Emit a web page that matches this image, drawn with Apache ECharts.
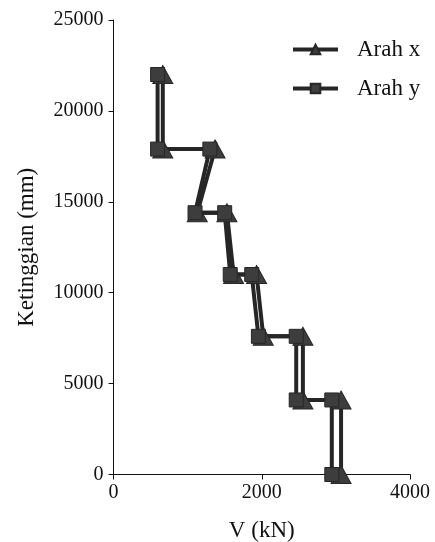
<!DOCTYPE html>
<html>
<head>
<meta charset="utf-8">
<script src="https://cdn.jsdelivr.net/npm/echarts@6/dist/echarts.min.js"></script>
<style>html,body{margin:0;padding:0;background:#fff}#c{width:435px;height:542px}</style>
</head>
<body>
<div id="c"></div>
<script>
const heights = [0, 4100, 4100, 7600, 7600, 11000, 11000, 14400, 14400, 17900, 17900, 22000];
const arahX = [3070, 3070, 2555, 2555, 2020, 1930, 1620, 1530, 1130, 1370, 665, 665];
const arahY = [2945, 2945, 2465, 2465, 1955, 1865, 1575, 1500, 1100, 1300, 595, 595];
const seriesNames = ['Arah x', 'Arah y'];
const xTicks = [0, 2000, 4000];
const yTicks = [0, 5000, 10000, 15000, 20000, 25000];

const font = 'Liberation Serif';
const dark = '#262626';
const fill = '#3d3d3d';

function pairs(xs) { return xs.map((v, i) => [v, heights[i]]); }

const chart = echarts.init(document.getElementById('c'), null, {renderer: 'canvas'});
chart.setOption({
  animation: false,
  backgroundColor: '#fff',
  grid: {left: 113.5, right: 25, top: 20, bottom: 67.5, containLabel: false, outerBoundsMode: 'none'},
  legend: {
    orient: 'vertical', left: 286, top: 33, itemGap: 16,
    itemWidth: 45, itemHeight: 12,
    lineStyle: {width: 4, color: dark},
    textStyle: {fontFamily: font, fontSize: 23, color: '#111', padding: [0, 0, 0, 14]},
    data: seriesNames
  },
  xAxis: {
    type: 'value', min: xTicks[0], max: xTicks[xTicks.length - 1], interval: 2000,
    name: 'V (kN)', nameLocation: 'middle', nameGap: 45,
    nameTextStyle: {fontFamily: font, fontSize: 23, color: '#111'},
    axisLine: {show: true, lineStyle: {color: '#111', width: 1}},
    axisTick: {show: true, inside: false, length: 5, lineStyle: {color: '#111'}},
    axisLabel: {fontFamily: font, fontSize: 20, color: '#111', margin: 8, formatter: v => String(v)},
    splitLine: {show: false}
  },
  yAxis: {
    type: 'value', min: yTicks[0], max: yTicks[yTicks.length - 1], interval: 5000,
    name: 'Ketinggian (mm)', nameLocation: 'middle', nameGap: 75, nameRotate: 90,
    nameTextStyle: {fontFamily: font, fontSize: 23, color: '#111'},
    axisLine: {show: true, lineStyle: {color: '#111', width: 1}},
    axisTick: {show: true, inside: false, length: 5, lineStyle: {color: '#111'}},
    axisLabel: {fontFamily: font, fontSize: 20, color: '#111', margin: 10, formatter: v => String(v)},
    splitLine: {show: false}
  },
  series: [
    {
      name: seriesNames[0], type: 'line', data: pairs(arahX),
      symbol: 'triangle', symbolSize: [20, 18],
      lineStyle: {color: dark, width: 4},
      itemStyle: {color: fill, borderColor: dark, borderWidth: 1},
      showAllSymbol: true
    },
    {
      name: seriesNames[1], type: 'line', data: pairs(arahY),
      symbol: 'rect', symbolSize: 14,
      lineStyle: {color: dark, width: 4},
      itemStyle: {color: fill, borderColor: dark, borderWidth: 1},
      showAllSymbol: true
    }
  ]
});
</script>
</body>
</html>
